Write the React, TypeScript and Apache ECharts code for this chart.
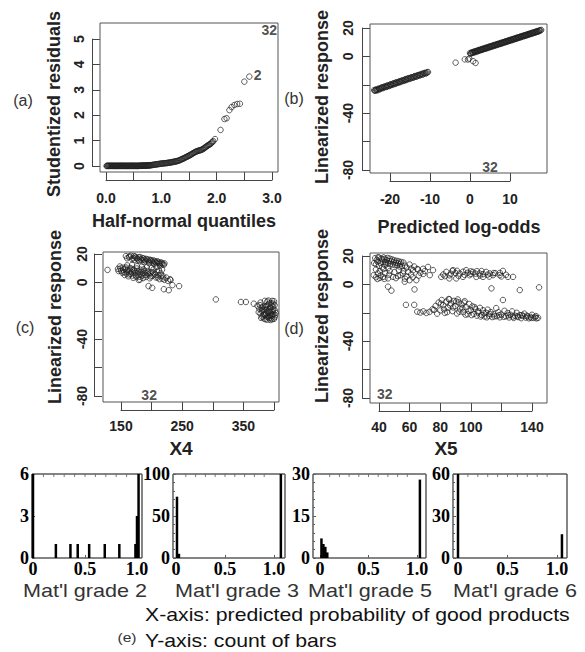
import React, { useEffect, useRef } from "react";
import * as echarts from "echarts";

// ---------- (a) half-normal plot ----------
const halfNormalPts: number[][] = [
  [0.02, 0.01], [0.04, 0.01], [0.06, 0.01], [0.08, 0.01], [0.1, 0.01], [0.12, 0.01], [0.14, 0.01],
  [0.16, 0.01], [0.18, 0.01], [0.2, 0.01], [0.22, 0.01], [0.24, 0.01], [0.26, 0.01], [0.28, 0.01],
  [0.3, 0.01], [0.32, 0.01], [0.34, 0.01], [0.36, 0.01], [0.38, 0.01], [0.4, 0.01], [0.42, 0.01],
  [0.44, 0.01], [0.46, 0.01], [0.48, 0.01], [0.5, 0.01], [0.52, 0.01], [0.54, 0.01], [0.56, 0.01],
  [0.58, 0.01], [0.6, 0.01], [0.62, 0.01], [0.64, 0.01], [0.66, 0.02], [0.68, 0.02], [0.7, 0.02],
  [0.72, 0.02], [0.74, 0.02], [0.76, 0.03], [0.78, 0.03], [0.8, 0.03], [0.83, 0.04], [0.86, 0.05],
  [0.89, 0.06], [0.92, 0.07], [0.95, 0.08], [0.98, 0.09], [1.01, 0.1], [1.04, 0.1], [1.07, 0.11],
  [1.1, 0.12], [1.13, 0.13], [1.16, 0.14], [1.19, 0.15], [1.22, 0.16], [1.25, 0.18], [1.28, 0.19],
  [1.31, 0.21], [1.34, 0.24], [1.37, 0.27], [1.4, 0.3], [1.43, 0.33], [1.46, 0.36], [1.49, 0.4],
  [1.52, 0.43], [1.55, 0.47], [1.58, 0.51], [1.61, 0.55], [1.64, 0.58], [1.67, 0.6], [1.7, 0.62],
  [1.73, 0.64], [1.76, 0.68], [1.79, 0.73], [1.82, 0.78], [1.85, 0.82], [1.88, 0.86], [1.91, 0.92],
  [1.94, 0.98], [1.97, 1.06], [2.07, 1.42], [2.14, 1.85], [2.18, 1.88], [2.23, 2.2], [2.27, 2.32],
  [2.32, 2.4], [2.37, 2.44], [2.42, 2.45], [2.5, 3.32], [2.59, 3.52],
];
const halfNormalExtra: number[][] = [
  [0.01, 0.0], [0.03, 0.0], [0.05, 0.0], [0.07, 0.0], [0.09, 0.0], [0.11, 0.0], [0.13, 0.0],
  [0.15, 0.0], [0.17, 0.0], [0.19, 0.0], [0.21, 0.0], [0.23, 0.0], [0.25, 0.0], [0.27, 0.0],
  [0.29, 0.0], [0.31, 0.0], [0.33, 0.0], [0.35, 0.0], [0.37, 0.0], [0.39, 0.0], [0.41, 0.0],
  [0.43, 0.0], [0.45, 0.0], [0.47, 0.0], [0.49, 0.0], [0.51, 0.0], [0.53, 0.0], [0.55, 0.0],
  [0.57, 0.0], [0.59, 0.0], [0.61, 0.01], [0.63, 0.01], [0.65, 0.01], [0.67, 0.01], [0.69, 0.01],
  [0.71, 0.01], [0.73, 0.01], [0.75, 0.02], [0.77, 0.02], [0.79, 0.02], [0.815, 0.03], [0.845, 0.04],
  [0.875, 0.05], [0.905, 0.06], [0.935, 0.07], [0.965, 0.08], [0.995, 0.09], [1.025, 0.1],
  [1.055, 0.11], [1.085, 0.11], [1.115, 0.12], [1.145, 0.13], [1.175, 0.14], [1.205, 0.16],
  [1.235, 0.17], [1.265, 0.18], [1.295, 0.2], [1.325, 0.22], [1.355, 0.25], [1.385, 0.28],
  [1.415, 0.31], [1.445, 0.35], [1.475, 0.38], [1.505, 0.41], [1.535, 0.45], [1.565, 0.49],
  [1.595, 0.53], [1.625, 0.56], [1.655, 0.59], [1.685, 0.61], [1.715, 0.63], [1.745, 0.66],
  [1.775, 0.7], [1.805, 0.75], [1.835, 0.8], [1.865, 0.84], [1.895, 0.88], [1.925, 0.95],
];
const halfNormalLabels = [
  { name: "32", value: [2.95, 5.35] },
  { name: "2", value: [2.74, 3.58] },
];

// ---------- (b) linearized response vs predicted log-odds ----------
const predLower: number[][] = [
  [-23.8, -24.2], [-23.5, -23.4], [-23.2, -23.9], [-22.8, -22.6], [-22.5, -23.1], [-22.1, -22.0],
  [-21.8, -22.4], [-21.4, -21.3], [-21.0, -21.6], [-20.7, -20.6], [-20.3, -21.0], [-19.9, -19.8],
  [-19.6, -20.2], [-19.2, -19.1], [-18.8, -19.5], [-18.5, -18.4], [-18.1, -18.7], [-17.7, -17.7],
  [-17.4, -18.1], [-17.0, -17.0], [-16.6, -17.3], [-16.2, -16.2], [-15.9, -16.6], [-15.5, -15.5],
  [-15.1, -15.9], [-14.7, -14.8], [-14.3, -15.1], [-13.9, -14.0], [-13.5, -14.4], [-13.1, -13.3],
  [-12.7, -13.6], [-12.3, -12.6], [-11.9, -12.9], [-11.5, -11.8], [-11.1, -12.1], [-10.7, -11.2],
];
const predLowerExtra: number[][] = [
  [-23.95, -23.7], [-23.65, -24.0], [-23.35, -23.2], [-23.0, -23.5], [-22.65, -22.9], [-22.3, -22.5],
  [-21.95, -21.8], [-21.6, -22.0], [-21.2, -21.1], [-20.85, -21.3], [-20.5, -20.4], [-20.1, -20.6],
  [-19.75, -19.6], [-19.4, -19.9], [-19.0, -18.9], [-18.65, -19.1], [-18.3, -18.2], [-17.9, -18.3],
  [-17.55, -17.5], [-17.2, -17.6], [-16.8, -16.8], [-16.4, -16.9], [-16.05, -16.0], [-15.7, -16.2],
  [-15.3, -15.3], [-14.9, -15.4], [-14.5, -14.6], [-14.1, -14.7], [-13.7, -13.8], [-13.3, -14.0],
  [-12.9, -13.1], [-12.5, -13.2], [-12.1, -12.3], [-11.7, -12.5], [-11.3, -11.6], [-10.9, -11.7],
  [-10.5, -11.0],
];
const predUpper: number[][] = [
  [0.0, 2.4], [0.3, 2.2], [0.6, 3.0], [0.9, 2.9], [1.2, 3.6], [1.5, 3.4], [1.8, 4.1], [2.1, 4.0],
  [2.4, 4.7], [2.7, 4.5], [3.0, 5.2], [3.3, 5.1], [3.6, 5.8], [3.9, 5.6], [4.2, 6.3], [4.5, 6.2],
  [4.8, 6.9], [5.1, 6.7], [5.4, 7.4], [5.7, 7.3], [6.0, 8.0], [6.3, 7.8], [6.6, 8.5], [6.9, 8.4],
  [7.2, 9.0], [7.5, 8.9], [7.8, 9.6], [8.1, 9.4], [8.4, 10.1], [8.7, 10.0], [9.0, 10.7], [9.3, 10.5],
  [9.6, 11.2], [9.9, 11.1], [10.2, 11.8], [10.5, 11.6], [10.8, 12.3], [11.1, 12.2], [11.4, 12.9],
  [11.7, 12.7], [12.0, 13.4], [12.3, 13.3], [12.6, 14.0], [12.9, 13.8], [13.2, 14.5], [13.5, 14.4],
  [13.8, 15.0], [14.1, 14.9], [14.4, 15.6], [14.7, 15.5], [15.0, 16.1], [15.3, 16.0], [15.6, 16.7],
  [15.9, 16.5], [16.2, 17.2], [16.5, 17.1], [16.8, 17.8], [17.1, 17.6], [17.4, 18.3], [17.8, 18.6],
];
const predUpperExtra: number[][] = [
  [0.15, 1.9], [0.45, 2.7], [0.75, 2.5], [1.05, 3.3], [1.35, 3.0], [1.65, 3.8], [1.95, 3.6], [2.25, 4.4],
  [2.55, 4.2], [2.85, 4.9], [3.15, 4.7], [3.45, 5.5], [3.75, 5.3], [4.05, 6.0], [4.35, 5.8], [4.65, 6.6],
  [4.95, 6.4], [5.25, 7.1], [5.55, 6.9], [5.85, 7.7], [6.15, 7.5], [6.45, 8.2], [6.75, 8.0], [7.05, 8.8],
  [7.35, 8.6], [7.65, 9.3], [7.95, 9.1], [8.25, 9.9], [8.55, 9.7], [8.85, 10.4], [9.15, 10.2],
  [9.45, 11.0], [9.75, 10.8], [10.05, 11.5], [10.35, 11.3], [10.65, 12.1], [10.95, 11.9], [11.25, 12.6],
  [11.55, 12.4], [11.85, 13.2], [12.15, 13.0], [12.45, 13.7], [12.75, 13.5], [13.05, 14.3], [13.35, 14.1],
  [13.65, 14.8], [13.95, 14.6], [14.25, 15.4], [14.55, 15.2], [14.85, 15.9], [15.15, 15.7], [15.45, 16.5],
  [15.75, 16.3], [16.05, 17.0], [16.35, 16.8], [16.65, 17.6], [16.95, 17.4], [17.25, 18.1], [17.6, 18.3],
];
const predOutliers: number[][] = [
  [-3.6, -4.4], [-1.3, -2.1], [-0.5, -2.2], [0.8, -3.4], [1.4, -4.6], [-0.2, -1.5],
];
const predLabels = [{ name: "32", value: [5, -78] }];

// ---------- (c) linearized response vs X4 ----------
const x4Pts: number[][] = [
  [158, 18.5], [163, 17.8], [166, 18.9], [170, 17.2], [173, 18.2], [176, 16.8], [179, 17.6],
  [182, 16.2], [185, 17.1], [188, 15.8], [191, 16.6], [194, 15.4], [197, 16.0], [200, 14.8],
  [203, 15.5], [206, 14.2], [209, 14.9], [212, 13.6], [215, 14.1], [218, 12.9], [221, 13.4],
  [172, 15.9], [180, 15.1], [188, 14.3], [196, 13.5], [204, 13.0],
  [145, 9.5], [148, 11.2], [150, 8.2], [153, 10.4], [155, 7.3], [157, 9.6], [159, 6.2], [161, 8.8],
  [163, 5.6], [165, 10.1], [167, 7.4], [169, 4.8], [171, 9.0], [173, 6.5], [175, 3.9], [177, 8.1],
  [179, 5.7], [181, 2.0], [183, 7.4], [185, 4.9], [187, 9.2], [189, 6.6], [191, 3.8], [193, 8.0],
  [195, 5.6], [197, 2.9], [199, 7.1], [201, 4.6], [203, 9.1], [205, 6.2], [207, 3.5], [209, 7.6],
  [211, 5.0], [213, 2.3], [215, 6.4], [217, 8.9], [219, 4.2], [221, 1.8], [224, 3.4], [227, 1.0],
  [230, 2.2], [160, 12.0], [168, 12.3], [176, 11.4], [184, 11.0], [192, 10.6], [200, 10.2],
  [208, 10.8], [214, 11.5],
  [195, -2.6], [201, -3.8], [220, -4.8], [228, -5.5], [234, -1.9], [245, -2.6], [231, 1.7], [179, 1.7],
  [128, 8.8], [305, -12], [346, -13.8], [354, -13.8], [367, -15],
  [373, -16.5], [376, -18.5], [378, -14.2], [380, -20.2], [382, -17.0], [384, -22.5], [385, -13.0],
  [386, -19.4], [388, -24.0], [389, -16.2], [390, -21.3], [391, -12.8], [392, -25.2], [393, -18.5],
  [394, -23.0], [395, -14.5], [396, -20.6], [397, -26.0], [398, -17.2], [399, -22.4], [400, -13.3],
  [401, -24.6], [402, -19.8], [378, -22.0], [381, -24.3], [383, -19.0], [387, -21.8], [389, -26.2],
  [391, -23.5], [393, -20.9], [395, -25.3], [397, -22.9], [399, -19.1], [401, -16.0], [387, -16.9],
  [392, -15.0], [396, -15.8], [384, -25.5], [380, -17.8], [403, -21.5],
];
const x4Extra: number[][] = [
  [160, 17.0], [164, 18.4], [168, 16.4], [171, 18.6], [175, 17.5], [178, 15.9], [181, 17.9], [184, 15.6],
  [187, 16.9], [190, 15.0], [193, 16.2], [196, 14.6], [199, 15.7], [202, 14.0], [205, 15.0], [208, 13.6],
  [211, 14.4], [214, 12.9], [217, 13.7], [220, 12.4],
  [146, 8.0], [149, 9.8], [152, 6.8], [154, 9.0], [156, 5.2], [158, 10.5], [160, 7.6], [162, 4.3],
  [164, 8.2], [166, 6.0], [168, 9.5], [170, 3.2], [172, 7.8], [174, 5.0], [176, 9.8], [178, 6.9],
  [180, 4.0], [182, 8.9], [184, 6.2], [186, 3.0], [188, 7.8], [190, 5.2], [194, 6.8], [198, 4.2],
  [202, 7.0], [206, 5.3], [210, 3.4], [212, 8.5], [216, 4.6], [218, 2.6],
  [375, -21.0], [377, -16.0], [379, -25.0], [381, -19.5], [383, -23.2], [385, -17.4], [386, -26.0],
  [388, -19.0], [390, -24.5], [392, -20.2], [394, -17.5], [394, -26.5], [396, -23.6], [398, -20.0],
  [400, -25.7], [402, -23.0], [399, -15.0], [397, -13.0], [389, -13.5], [386, -22.8],
];
const x4Labels = [{ name: "32", value: [196, -79] }];

// ---------- (d) linearized response vs X5 ----------
const x5Pts: number[][] = [
  [37.5, 18.5], [39, 16.0], [40, 18.8], [41, 15.2], [42, 17.6], [43, 19.0], [44, 15.8], [45, 17.2],
  [46, 14.6], [47, 18.2], [48, 16.4], [49, 14.0], [50, 17.0], [51, 15.3], [52, 13.5], [53, 16.2],
  [54, 14.5], [55, 12.8], [56, 15.4], [57, 13.2], [58, 11.8], [60, 14.0], [61, 11.2], [63, 12.6],
  [65, 10.8], [38, 14.2], [40, 13.0], [42, 12.0], [44, 13.5], [46, 11.6],
  [39.3, 7.7], [42.6, 5.3], [45.9, 4.2], [49.2, 5.3], [52.4, 5.8], [55.7, 7.7], [59, 8.8], [62.3, 10],
  [65.5, 10.5], [68.8, 11], [72, 12.3], [75.3, 10], [73.2, 6.5], [64.4, 3], [60, 3], [56.8, 1.9],
  [45.9, -1.6], [48.1, -4.4], [63.2, -3.5], [38, 5.0], [41, 6.3], [44, 8.0], [47, 9.4], [50, 8.6],
  [53, 10.2], [56, 9.5], [58, 5.6], [61, 7.0], [67, 8.2], [70, 9.4], [36.5, 6.5],
  [80.7, 5.3], [84, 8.8], [88.4, 10], [92.7, 7.7], [97, 10], [101.4, 8.8], [105.7, 7.7], [110, 8.8],
  [114.5, 6.5], [118.9, 6.5], [121, 9.5], [124.3, 5.3], [127.6, 5.3], [86, 4.2], [90.5, 4.2],
  [94.9, 5.3], [99.2, 6.5], [103.6, 5.3], [108, 5.3], [112.4, 7.7], [82, 7.0], [86, 6.4], [90, 8.0],
  [95, 9.0], [100, 7.4], [104, 9.3], [108, 7.2], [112, 5.5], [116, 7.9], [120, 5.6], [88, 9.5],
  [92, 6.0], [98, 8.2], [106, 6.2],
  [113.5, -2.8], [132, -4], [144.6, -2.1],
  [57.6, -14.4], [63, -14.4], [65, -19.2], [67, -19.8], [69, -19.0], [71, -20.1], [73, -19.4],
  [75, -17.5], [77, -15.2], [79, -12.8], [80, -18.3], [81, -11.0], [82, -14.6], [83, -20.1],
  [84, -12.1], [85, -16.5], [86, -10.5], [87, -13.4], [88, -18.8], [89, -11.6], [90, -15.3],
  [91, -20.5], [92, -12.6], [93, -17.0], [94, -14.0], [95, -19.4], [96, -11.8], [97, -16.0],
  [98, -21.0], [99, -13.8], [100, -18.1], [101, -15.5], [102, -20.8], [103, -17.3], [104, -22.0],
  [105, -19.0], [106, -16.5], [107, -21.5], [108, -18.2], [109, -22.6], [110, -20.0], [111, -17.8],
  [112, -22.1], [113, -19.5], [114, -23.0], [115, -21.0], [116.6, -16.7], [117, -22.4], [118, -19.6],
  [119, -23.2], [120, -21.2], [121, -11], [122, -18.6], [123, -22.5], [124, -20.2], [125, -23.3],
  [126, -21.4], [127, -19.0], [128, -23.6], [129, -22.1], [130, -20.0], [131, -23.0], [132, -21.6],
  [133, -23.8], [134, -22.3], [135, -20.6], [136, -23.4], [137, -22.6], [138, -23.9], [139, -22.9],
  [140, -21.4], [141, -23.6], [142, -23.2], [143, -23.9], [144, -23.5],
];
const x5Extra: number[][] = [
  [38.5, 17.2], [39.5, 19.2], [41.5, 18.2], [42.5, 16.0], [43.5, 17.8], [44.5, 14.8], [45.5, 18.6],
  [46.5, 16.4], [47.5, 14.2], [48.5, 17.6], [49.5, 15.6], [50.5, 13.6], [51.5, 16.6], [52.5, 14.8],
  [53.5, 12.6], [54.5, 15.8], [36.8, 15.0], [38, 10.5], [40.5, 9.5], [43, 10.8], [39, 3.8], [40.5, 4.6],
  [43.5, 3.9], [46.5, 6.8], [51, 4.4], [54, 6.5], [57, 4.0], [62, 5.0], [66, 6.2], [69, 7.4],
  [83, 5.8], [87, 7.5], [91, 9.6], [96, 6.7], [100, 9.2], [103, 7.6], [107, 9.4], [111, 6.9], [115, 8.0],
  [119, 8.1], [123, 6.8],
  [76, -18.0], [78, -20.6], [80.5, -13.6], [82.5, -17.6], [84.5, -19.5], [86.5, -14.8], [88.5, -16.2],
  [90.5, -12.0], [92.5, -19.2], [94.5, -16.8], [96.5, -21.3], [98.5, -18.6], [100.5, -21.6],
  [102.5, -16.0], [104.5, -19.8], [106.5, -22.6], [108.5, -20.4], [110.5, -23.2], [112.5, -20.8],
  [115.5, -22.5], [118.5, -21.6], [121.5, -22.8], [124.5, -21.8], [127.5, -22.7], [130.5, -22.4],
  [133.5, -21.6], [136.5, -22.0], [139.5, -23.6], [142.5, -22.3], [85.5, -10.3], [91.5, -10.6],
  [95.5, -12.8],
];
const x5Labels = [{ name: "32", value: [43.7, -77] }];

// ---------- (e) histograms ----------
const histTitles = ["Mat'l grade 2", "Mat'l grade 3", "Mat'l grade 5", "Mat'l grade 6"];
const histYMax = [6, 100, 30, 60];
const hist2Bars: number[][] = [
  [0.0, 6], [0.22, 1], [0.36, 1], [0.43, 1], [0.54, 1], [0.69, 1], [0.83, 1], [0.985, 1], [1.0, 3], [1.015, 6],
];
const hist3Bars: number[][] = [[0.01, 73], [0.03, 5], [1.07, 100]];
const hist5Bars: number[][] = [[0.015, 7], [0.035, 5], [0.055, 4], [0.075, 2], [1.03, 28]];
const hist6Bars: number[][] = [[0.0, 60], [1.05, 17]];
const histBars = [hist2Bars, hist3Bars, hist5Bars, hist6Bars];
const histTopTicks = [0.1, 0.2, 0.3, 0.4, 0.5, 0.6, 0.7, 0.8, 0.9];

const SANS = "'Liberation Sans', Arial, sans-serif";
const SERIF = "'Liberation Serif', 'Times New Roman', serif";
const FRAME_DARK = "#555555";
const FRAME_HIST = "#5c5c5c";

type Panel = {
  grid: { left: number; top: number; width: number; height: number };
  x: [number, number, number];
  y: [number, number, number];
  xOff: number;
  yOff: number;
  xMargin: number;
  yMargin: number;
  xFmt: (v: number) => string;
  yFmt: (v: number) => string;
  box: [number, number, number, number];
};

const yHide = (v: number) => (v === -60 || v === -20 ? "" : String(v));

const panels: Panel[] = [
  {
    grid: { left: 106, top: 39, width: 166, height: 127 },
    x: [0, 3, 0.5], y: [0, 5, 1], xOff: 14, yOff: 14, xMargin: 11, yMargin: 6,
    xFmt: (v) => (Math.abs(v - Math.round(v)) < 1e-9 ? v.toFixed(1) : ""),
    yFmt: (v) => String(v),
    box: [100, 23, 178, 149],
  },
  {
    grid: { left: 390, top: 28, width: 120, height: 142 },
    x: [-20, 10, 10], y: [-80, 20, 20], xOff: 11, yOff: 28, xMargin: 11, yMargin: 7,
    xFmt: (v) => String(v), yFmt: yHide,
    box: [370, 24, 177, 149],
  },
  {
    grid: { left: 121, top: 254, width: 153, height: 142 },
    x: [150, 400, 50], y: [-80, 20, 20], xOff: 14, yOff: 27, xMargin: 9, yMargin: 5,
    xFmt: (v) => (v === 150 || v === 250 || v === 350 ? String(v) : ""), yFmt: yHide,
    box: [103, 252, 176, 150],
  },
  {
    grid: { left: 379, top: 256, width: 153, height: 142 },
    x: [40, 140, 20], y: [-80, 20, 20], xOff: 13, yOff: 17, xMargin: 9, yMargin: 7,
    xFmt: (v) => (v === 120 ? "" : String(v)), yFmt: yHide,
    box: [370, 253, 177, 150],
  },
];

const histGrids = [
  { left: 33, top: 474, width: 104, height: 84, frame: [32, 474, 110, 84] },
  { left: 176, top: 474, width: 98, height: 84, frame: [173, 474, 112, 84] },
  { left: 320, top: 474, width: 97, height: 84, frame: [313, 474, 113, 84] },
  { left: 458, top: 474, width: 99, height: 84, frame: [453, 474, 114, 84] },
];

const scatterSets = [
  { pts: [halfNormalPts, halfNormalExtra], labels: halfNormalLabels },
  { pts: [predLower, predLowerExtra, predUpper, predUpperExtra, predOutliers], labels: predLabels },
  { pts: [x4Pts, x4Extra], labels: x4Labels },
  { pts: [x5Pts, x5Extra], labels: x5Labels },
];

function buildOption() {
  const grid: any[] = [];
  const xAxis: any[] = [];
  const yAxis: any[] = [];
  const series: any[] = [];
  const graphic: any[] = [];

  const axisCol = "#444";
  panels.forEach((p, i) => {
    grid.push({ ...p.grid });
    xAxis.push({
      gridIndex: i, type: "value", min: p.x[0], max: p.x[1], interval: p.x[2],
      position: "bottom", offset: p.xOff,
      axisLine: { show: true, onZero: false, lineStyle: { color: axisCol, width: 1 } },
      axisTick: { show: true, inside: true, length: 8, lineStyle: { color: axisCol, width: 1 } },
      axisLabel: { formatter: p.xFmt, fontSize: 14, fontWeight: "bold", fontFamily: SANS, color: "#222", margin: p.xMargin },
      splitLine: { show: false },
    });
    yAxis.push({
      gridIndex: i, type: "value", min: p.y[0], max: p.y[1], interval: p.y[2],
      position: "left", offset: p.yOff,
      axisLine: { show: true, onZero: false, lineStyle: { color: axisCol, width: 1 } },
      axisTick: { show: true, inside: true, length: 8, lineStyle: { color: axisCol, width: 1 } },
      axisLabel: { formatter: p.yFmt, rotate: 90, fontSize: 14, fontWeight: "bold", fontFamily: SANS, color: "#222", margin: p.yMargin },
      splitLine: { show: false },
    });
    scatterSets[i].pts.forEach((pts) => {
      series.push({
        type: "scatter", xAxisIndex: i, yAxisIndex: i, data: pts, clip: false,
        symbol: "circle", symbolSize: 5.5,
        itemStyle: { color: "rgba(255,255,255,0)", borderColor: "#1e1e1e", borderWidth: 0.9 },
      });
    });
    series.push({
      type: "scatter", xAxisIndex: i, yAxisIndex: i, data: scatterSets[i].labels, clip: false,
      symbol: "circle", symbolSize: 1, itemStyle: { color: "rgba(255,255,255,0)" },
      label: { show: true, position: "inside", formatter: "{b}", fontSize: 14, fontWeight: "bold", fontFamily: SANS, color: "#222" },
    });
    // plot box drawn as four graphic lines in a dark grey
    const [bx, by, bw, bh] = p.box;
    graphic.push(
      { type: "line", z: 10, shape: { x1: bx, y1: by, x2: bx + bw, y2: by }, style: { stroke: FRAME_DARK, lineWidth: 1 } },
      { type: "line", z: 10, shape: { x1: bx + bw, y1: by, x2: bx + bw, y2: by + bh }, style: { stroke: FRAME_DARK, lineWidth: 1 } },
      { type: "line", z: 10, shape: { x1: bx, y1: by + bh, x2: bx + bw, y2: by + bh }, style: { stroke: FRAME_DARK, lineWidth: 1 } },
      { type: "line", z: 10, shape: { x1: bx, y1: by, x2: bx, y2: by + bh }, style: { stroke: FRAME_DARK, lineWidth: 1 } },
    );
  });

  histGrids.forEach((h, k) => {
    const gi = 4 + k;
    grid.push({ left: h.left, top: h.top, width: h.width, height: h.height });
    xAxis.push({
      gridIndex: gi, type: "value", min: 0, max: 1, interval: 0.5, position: "bottom",
      axisLine: { show: false, onZero: false },
      axisTick: { show: true, inside: true, length: 3, lineStyle: { color: FRAME_HIST } },
      axisLabel: { formatter: (v: number) => (v === 0 ? "0" : v.toFixed(1)), fontSize: 18, fontWeight: "bold", fontFamily: SERIF, color: "#000", margin: 2 },
      splitLine: { show: false },
    });
    yAxis.push({
      gridIndex: gi, type: "value", min: 0, max: histYMax[k], interval: histYMax[k] / 2,
      position: "left", offset: h.left - h.frame[0],
      axisLine: { show: false, onZero: false },
      axisTick: { show: true, inside: true, length: 3, lineStyle: { color: FRAME_HIST } },
      minorTick: { show: true, splitNumber: k === 0 ? 3 : 5, length: 2, lineStyle: { color: FRAME_HIST } },
      axisLabel: { fontSize: 18, fontWeight: "bold", fontFamily: SERIF, color: "#000", margin: 3 },
      splitLine: { show: false },
    });
    // histogram frame as four graphic lines
    const [fx, fy, fw, fh] = h.frame;
    graphic.push(
      { type: "line", z: 1, shape: { x1: fx, y1: fy, x2: fx + fw, y2: fy }, style: { stroke: FRAME_HIST, lineWidth: 1.5 } },
      { type: "line", z: 1, shape: { x1: fx + fw, y1: fy, x2: fx + fw, y2: fy + fh }, style: { stroke: FRAME_HIST, lineWidth: 1.5 } },
      { type: "line", z: 1, shape: { x1: fx, y1: fy + fh, x2: fx + fw, y2: fy + fh }, style: { stroke: FRAME_HIST, lineWidth: 1.5 } },
      { type: "line", z: 1, shape: { x1: fx, y1: fy, x2: fx, y2: fy + fh }, style: { stroke: FRAME_HIST, lineWidth: 1.5 } },
    );
    // small tick marks along the top edge, placed through the histogram's own scale
    series.push({
      type: "scatter", xAxisIndex: gi, yAxisIndex: gi, clip: false, silent: true, z: 2,
      data: histTopTicks.map((v) => [v, histYMax[k]]),
      symbol: "rect", symbolSize: [1, 3], symbolOffset: [0, 1.5],
      itemStyle: { color: FRAME_HIST },
    });
    series.push({
      type: "bar", xAxisIndex: gi, yAxisIndex: gi, data: histBars[k], barWidth: 2.5, clip: false,
      itemStyle: { color: "#000" }, z: 3,
    });
  });

  const txt = (text: string, x: number, y: number, opts: any = {}) => ({
    type: "text", x, y, rotation: opts.rotation || 0, scaleX: opts.scaleX || 1, z: 5,
    style: {
      text, fill: opts.color || "#222", fontSize: opts.size || 18, fontWeight: opts.weight || "normal",
      fontFamily: opts.family || SANS, align: opts.align || "center", verticalAlign: "middle",
      textAlign: opts.align || "center", textVerticalAlign: "middle",
    },
  });
  const R = Math.PI / 2;
  graphic.push(
    txt("(a)", 23, 100, { size: 16, color: "#333" }),
    txt("(b)", 294, 98, { size: 16, color: "#333" }),
    txt("(c)", 25, 327, { size: 16, color: "#333" }),
    txt("(d)", 294, 328, { size: 16, color: "#333" }),
    txt("Studentized residuals", 54, 104, { weight: "bold", rotation: R }),
    txt("Linearized response", 322, 97, { weight: "bold", rotation: R }),
    txt("Linearized response", 55, 317, { weight: "bold", rotation: R }),
    txt("Linearized response", 322, 316, { weight: "bold", rotation: R }),
    txt("Half-normal quantiles", 184, 221, { weight: "bold" }),
    txt("Predicted log-odds", 459, 227, { weight: "bold" }),
    txt("X4", 181, 448, { weight: "bold", size: 19 }),
    txt("X5", 446, 448, { weight: "bold", size: 19 }),
  );
  const titleX = [85, 237, 370, 515];
  histTitles.forEach((t, k) => graphic.push(txt(t, titleX[k], 591, { size: 18, scaleX: 1.2, color: "#333" })));
  graphic.push(
    txt("X-axis: predicted probability of good products", 145, 615, { size: 18, scaleX: 1.18, align: "left", color: "#111" }),
    txt("Y-axis: count of bars", 145, 641, { size: 18, scaleX: 1.18, align: "left", color: "#111" }),
    txt("(e)", 127, 637, { size: 13, scaleX: 1.2, color: "#333" }),
  );

  return { animation: false, backgroundColor: "#fff", grid, xAxis, yAxis, series, graphic };
}

export default function App() {
  const ref = useRef<HTMLDivElement>(null);
  useEffect(() => {
    const chart = echarts.init(ref.current!, null, { renderer: "svg" });
    chart.setOption(buildOption() as any);
    return () => chart.dispose();
  }, []);
  return (
    <div
      ref={ref}
      style={{ position: "absolute", left: 0, top: 0, width: 585, height: 652, background: "#fff" }}
    />
  );
}
